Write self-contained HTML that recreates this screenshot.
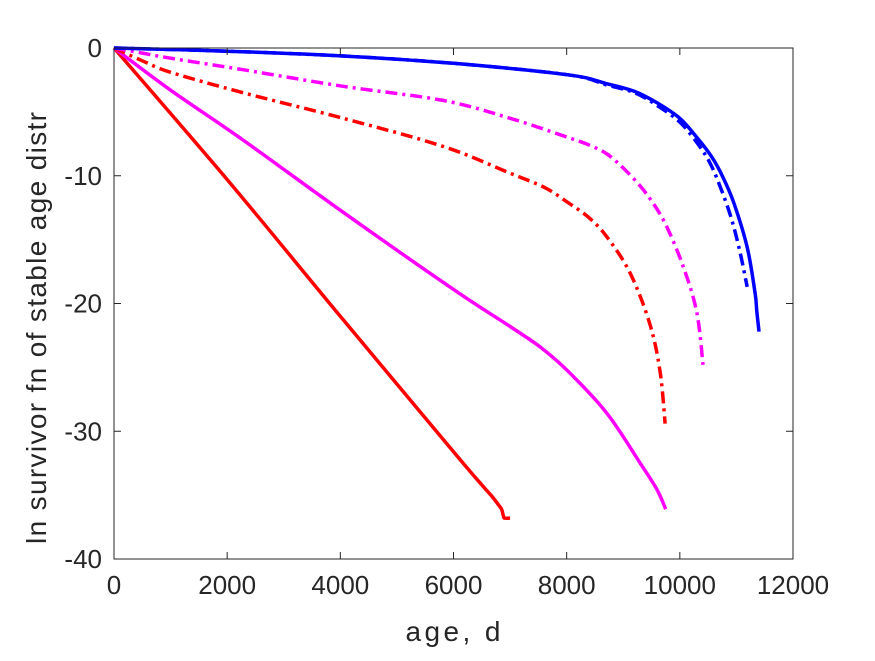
<!DOCTYPE html>
<html><head><meta charset="utf-8"><style>
body{margin:0;background:#fff;}
svg text{font-family:"Liberation Sans",sans-serif;fill:#262626;}
</style></head><body>
<svg id="chart" width="875" height="656">
<rect x="0" y="0" width="875" height="656" fill="#fff"/>
<g id="plot"></g>
<g id="axes"></g>
<text x="453" y="641" font-size="28" text-anchor="middle" textLength="95">age, d</text>
<text transform="translate(46,328) rotate(-90)" font-size="28" text-anchor="middle" textLength="432">ln survivor fn of stable age distr</text>
</svg>
<script>
const xTicks=[0,2000,4000,6000,8000,10000,12000];
const yTicks=[0,-10,-20,-30,-40];
const redSolidX=[0,2000,4000,6000,6500,6700,6800,6850,6880,6900,7000];
const redSolidY=[0,-10.3,-21,-31.6,-34.2,-35.2,-35.8,-36.1,-36.6,-36.8,-36.8];
const magSolidX=[0,1000,2280,4000,6000,7000,7530,8024,8713,9300,9600,9750];
const magSolidY=[0,-3.3,-7.2,-12.7,-18.9,-21.8,-23.4,-25.3,-28.6,-32.5,-34.6,-36.1];
const redDashX=[0,500,1000,2280,4050,5815,7000,7600,8024,8400,8713,9120,9470,9650,9740];
const redDashY=[0,-1.0,-1.9,-3.5,-5.5,-7.7,-9.8,-10.9,-12.1,-13.3,-14.8,-17.6,-21.6,-25.3,-29.4];
const magDashX=[0,500,1000,2280,4050,5815,7000,8024,8400,8713,9000,9300,9550,9770,10060,10300,10410];
const magDashY=[0,-0.4,-0.8,-1.7,-3.0,-4.1,-5.5,-7.0,-7.6,-8.3,-9.4,-10.8,-12.3,-14.0,-17.1,-20.7,-24.8];
const blueSolidX=[0,2000,4050,6000,8024,8713,9200,9600,10000,10300,10560,10760,10960,11190,11330,11360,11400];
const blueSolidY=[0,-0.25,-0.63,-1.2,-2.1,-2.8,-3.4,-4.3,-5.5,-7.0,-8.5,-10.1,-12.2,-15.6,-19.2,-20.6,-22.2];
const blueDashX=[0,2000,4050,6000,8024,8713,9200,9600,10000,10300,10520,10700,10900,11060,11190];
const blueDashY=[0,-0.25,-0.63,-1.2,-2.1,-2.9,-3.5,-4.5,-5.8,-7.4,-8.9,-10.7,-13.2,-15.9,-18.7];

const X0=114,X1=793,Y0=48,Y1=559;
const sx=v=>X0+(v-0)/12000*(X1-X0);
const sy=v=>Y0+(0-v)/40*(Y1-Y0);
const NS="http://www.w3.org/2000/svg";
const plot=document.getElementById('plot'),axes=document.getElementById('axes');
function smoothPath(xs,ys){
  const P=xs.map((x,i)=>[sx(x),sy(ys[i])]);
  let d=`M${P[0][0].toFixed(1)},${P[0][1].toFixed(1)}`;
  for(let i=0;i<P.length-1;i++){
    const p0=P[i-1]||P[i],p1=P[i],p2=P[i+1],p3=P[i+2]||P[i+1];
    const c1=[p1[0]+(p2[0]-p0[0])/6,p1[1]+(p2[1]-p0[1])/6];
    const c2=[p2[0]-(p3[0]-p1[0])/6,p2[1]-(p3[1]-p1[1])/6];
    d+=`C${c1[0].toFixed(1)},${c1[1].toFixed(1)} ${c2[0].toFixed(1)},${c2[1].toFixed(1)} ${p2[0].toFixed(1)},${p2[1].toFixed(1)}`;
  }
  return d;
}
function line(xs,ys,color,dash,name){
  const p=document.createElementNS(NS,'path');
  p.setAttribute('d',smoothPath(xs,ys));
  p.setAttribute('fill','none');p.setAttribute('stroke',color);p.setAttribute('stroke-width','3.5');
  p.setAttribute('stroke-linejoin','round');
  if(dash)p.setAttribute('stroke-dasharray',dash);
  
  
  plot.appendChild(p);
}
line(redSolidX,redSolidY,'#ff0000',null,'red-solid-line');
line(magSolidX,magSolidY,'#ff00ff',null,'magenta-solid-line');
line(redDashX,redDashY,'#ff0000','12,5,3,5','red-dashdot-line');
line(magDashX,magDashY,'#ff00ff','12,5,3,5','magenta-dashdot-line');
line(blueDashX,blueDashY,'#0000ff','12,5,3,5','blue-dashdot-line');
line(blueSolidX,blueSolidY,'#0000ff',null,'blue-solid-line');
const box=document.createElementNS(NS,'rect');
box.setAttribute('x',X0);box.setAttribute('y',Y0);box.setAttribute('width',X1-X0);box.setAttribute('height',Y1-Y0);
box.setAttribute('fill','none');box.setAttribute('stroke','#262626');box.setAttribute('stroke-width','1');


axes.appendChild(box);
xTicks.forEach(t=>{
  const x=sx(t);
  const l=document.createElementNS(NS,'path');
  l.setAttribute('d',`M${x},${Y1}v-7M${x},${Y0}v7`);l.setAttribute('stroke','#262626');
  
  
  axes.appendChild(l);
  const tx=document.createElementNS(NS,'text');
  tx.setAttribute('x',x);tx.setAttribute('y',Y1+35);tx.setAttribute('font-size','26');tx.setAttribute('text-anchor','middle');
  tx.textContent=t;
  
  
  axes.appendChild(tx);
});
yTicks.forEach(t=>{
  const y=sy(t);
  const l=document.createElementNS(NS,'path');
  l.setAttribute('d',`M${X0},${y}h7M${X1},${y}h-7`);l.setAttribute('stroke','#262626');
  
  
  axes.appendChild(l);
  const tx=document.createElementNS(NS,'text');
  tx.setAttribute('x',X0-12);tx.setAttribute('y',y+9);tx.setAttribute('font-size','26');tx.setAttribute('text-anchor','end');
  tx.textContent=t;
  
  
  axes.appendChild(tx);
});
</script>
</body></html>
